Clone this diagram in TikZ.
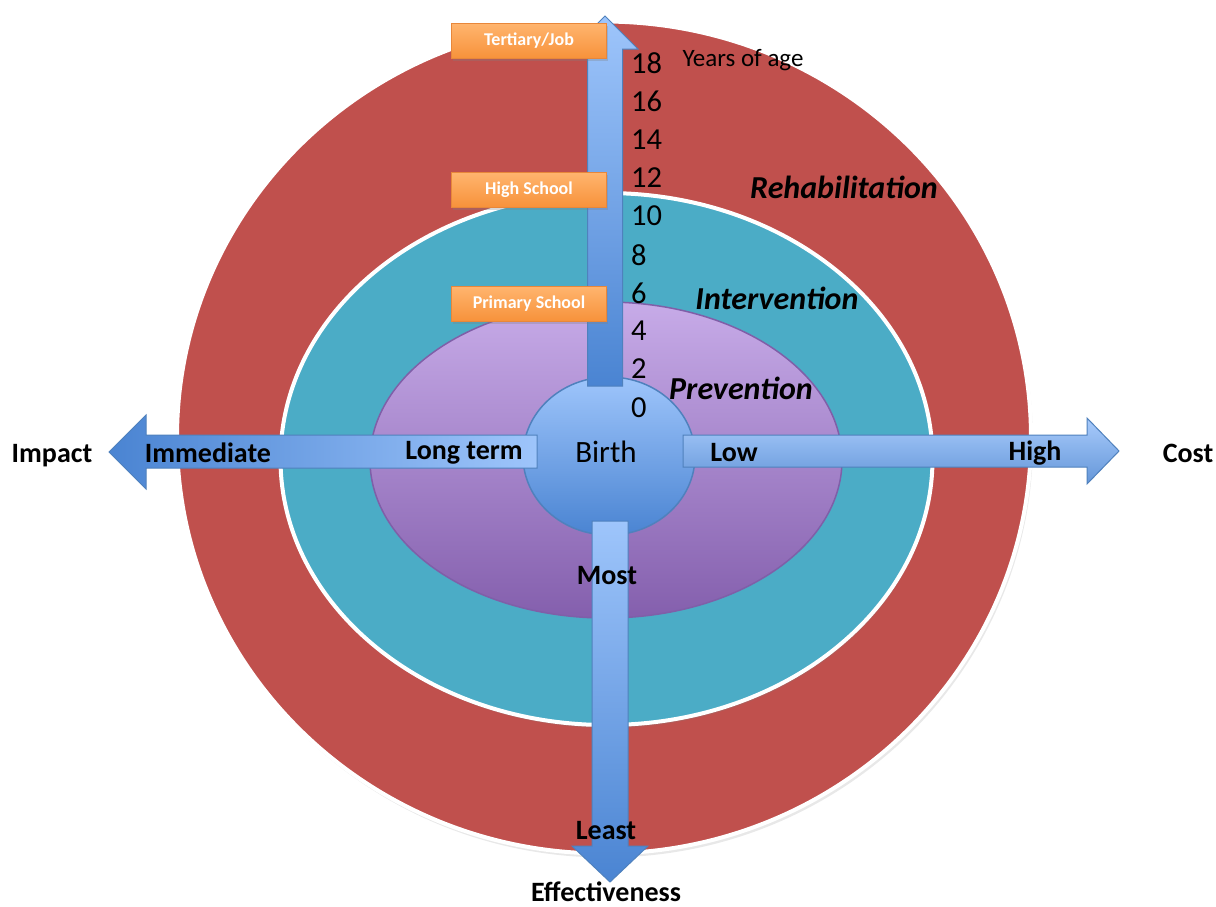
\documentclass[tikz,border=0pt]{standalone}
\usepackage{fontspec}
\setmainfont{Carlito}
\usetikzlibrary{shapes.geometric,shadows}
\definecolor{ringred}{HTML}{C0504D}
\definecolor{ringteal}{HTML}{4BACC6}
\definecolor{purptop}{HTML}{C7ABE8}
\definecolor{purpbot}{HTML}{845FAD}
\definecolor{purpline}{HTML}{7F5FA8}
\definecolor{bluelight}{HTML}{9EC5FB}
\definecolor{bluedark}{HTML}{4A84D2}
\definecolor{blueline}{HTML}{4F81BD}
\definecolor{orgtop}{HTML}{FFB46E}
\definecolor{orgbot}{HTML}{F7923A}
\definecolor{orgline}{HTML}{E8873A}
\tikzset{
  ring/.style={ellipse, inner sep=0pt},
  arrowshape/.style={draw=blueline, line width=1},
  stagebox/.style={rectangle, minimum width=155, minimum height=35, inner sep=0pt,
    top color=orgtop, bottom color=orgbot, draw=orgline, line width=0.8,
    drop shadow={shadow xshift=1pt, shadow yshift=-2pt, opacity=0.3},
    text=white, font=\fontsize{18}{20}\selectfont\bfseries},
  agelbl/.style={anchor=west, inner sep=0pt, font=\fontsize{30.5}{33}\selectfont},
  boldlbl/.style={inner sep=0pt, font=\fontsize{28}{31}\selectfont\bfseries},
  zonelbl/.style={inner sep=0pt, font=\fontsize{32}{35}\selectfont\bfseries\itshape},
}
\begin{document}
\begin{tikzpicture}[x=1pt,y=-1pt]
\useasboundingbox (0,0) rectangle (1216,906);
\fill[white] (0,0) rectangle (1216,906);

% rings
\node[ring, minimum width=854, minimum height=832, fill=ringred, draw=white, line width=4,
  drop shadow={shadow xshift=2pt, shadow yshift=-4pt, opacity=0.18}] (rehab) at (604,437.5) {};
\node[ring, minimum width=652, minimum height=532, fill=ringteal, draw=white, line width=4,
  drop shadow={shadow xshift=1pt, shadow yshift=-3pt, opacity=0.25}] (interv) at (606.5,459) {};
\node[ring, minimum width=472, minimum height=316, top color=purptop, bottom color=purpbot,
  draw=purpline, line width=1.5] (prev) at (606,460) {};
\node[ring, minimum width=172, minimum height=158, top color=bluelight, bottom color=bluedark,
  draw=blueline, line width=1.5] (birth) at (609,456) {};

% arrows
\shade[arrowshape, top color=bluelight, bottom color=bluedark]
  (587.5,386) -- (587.5,49) -- (572,49) -- (605,16) -- (638,49) -- (622.5,49) -- (622.5,386) -- cycle;
\shade[arrowshape, left color=bluedark, right color=bluelight]
  (537,435) -- (146,435) -- (146,415) -- (109,452) -- (146,489) -- (146,468) -- (537,468) -- cycle;
\shade[arrowshape, top color=bluelight!90!white, bottom color=bluedark!85!white]
  (683,435) -- (1087,435) -- (1087,418) -- (1119,451) -- (1087,484) -- (1087,467) -- (683,467) -- cycle;
\shade[arrowshape, top color=bluelight, bottom color=bluedark]
  (592,521) -- (628,521) -- (628,846) -- (648,846) -- (610,882) -- (572,846) -- (592,846) -- cycle;

% stage boxes
\node[stagebox] (tert) at (529,41) {Tertiary/Job};
\node[stagebox] (high) at (529,190) {High School};
\node[stagebox] (prim) at (529,304) {Primary School};

% ages
\node[agelbl] (a18) at (631,63) {18};
\node[agelbl] (a16) at (631,101) {16};
\node[agelbl] (a14) at (631,140) {14};
\node[agelbl] (a12) at (631,178) {12};
\node[agelbl] (a10) at (631,216) {10};
\node[agelbl] (a8) at (631,255) {8};
\node[agelbl] (a6) at (631,293) {6};
\node[agelbl] (a4) at (631,331) {4};
\node[agelbl] (a2) at (631,369) {2};
\node[agelbl] (a0) at (631,408) {0};
\node[inner sep=0pt, font=\fontsize{25}{28}\selectfont] (yrs) at (743,60) {Years of age};

% zone labels
\node[zonelbl] (lrehab) at (844,187) {Rehabilitation};
\node[zonelbl] (linterv) at (777,298) {Intervention};
\node[zonelbl] (lprev) at (741,388) {Prevention};
\node[inner sep=0pt, font=\fontsize{31}{34}\selectfont] (lbirth) at (606,452) {Birth};

% axis labels
\node[boldlbl] (limm) at (208,453) {Immediate};
\node[boldlbl] (llong) at (464,453) {Long term};
\node[boldlbl] (llow) at (734,453) {Low};
\node[boldlbl] (lhigh) at (1035,453) {High};
\node[boldlbl] (limpact) at (52,456) {Impact};
\node[boldlbl] (lcost) at (1188,453) {Cost};
\node[boldlbl] (lmost) at (607,576) {Most};
\node[boldlbl] (lleast) at (606,831) {Least};
\node[boldlbl, anchor=base] (leff) at (606,901) {Effectiveness};
\end{tikzpicture}
\end{document}
